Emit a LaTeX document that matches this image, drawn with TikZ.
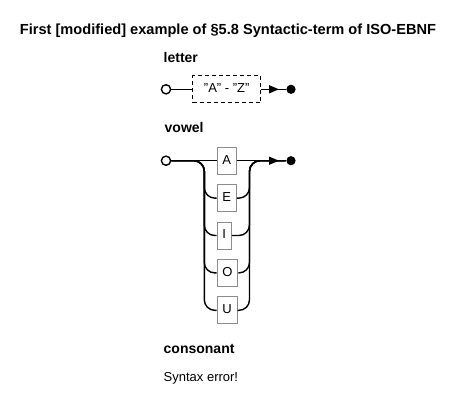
\documentclass[tikz,border=0pt]{standalone}
\usepackage{fontspec}
\setmainfont{Liberation Sans}
\usepackage{tikz}
\usetikzlibrary{calc,positioning,arrows.meta}

\tikzset{
  heading/.style={anchor=base west,inner sep=0pt,font=\fontsize{14}{16}\selectfont\bfseries},
  plaintext/.style={anchor=base west,inner sep=0pt,font=\fontsize{13}{15}\selectfont},
  startdot/.style={circle,draw,fill=white,minimum size=8pt,inner sep=0pt},
  enddot/.style={circle,fill=black,minimum size=7pt,inner sep=0pt},
  termbox/.style={rectangle,draw=black!45,line width=0.9pt,minimum height=27pt,
               inner xsep=5.3pt,font=\fontsize{13}{15}\selectfont},
  rangebox/.style={termbox,draw=black,dash pattern=on 4pt off 3pt,minimum width=68pt},
  arrowtip/.style={-{Triangle[length=10pt,width=8pt]}}
}

\begin{document}
\begin{tikzpicture}[x=1pt,y=-1pt,line width=1.4pt,
                    text height=1.5ex,text depth=0.25ex]
  \useasboundingbox (0,0) rectangle (455,410);

  \node[heading,anchor=base,font=\fontsize{14.6}{17}\selectfont\bfseries] (title) at (228,34)
    {First [modified] example of §5.8 Syntactic-term of ISO-EBNF};

  % letter
  \node[heading] (letter) at (163,62) {letter};
  \node[startdot] (lbegin) at (166,89.3) {};
  \node[rangebox] (az) at (226.7,89.3) {"A" - "Z"};
  \node[enddot] (lfinish) at (291,89.3) {};
  \coordinate (ltip) at (279,89.3);
  \draw (lbegin) -- (az);
  \draw (az) -- (lfinish);
  \draw[arrowtip] (az) -- (ltip);

  % vowel
  \node[heading] (vowel) at (164,132) {vowel};
  \node[startdot] (vbegin) at (166,160.7) {};
  \foreach \ch [count=\i from 0] in {A,E,I,O,U}
    \node[termbox,anchor=west] (v\ch) at (216.7,160.7+37.4*\i) {\ch};
  \node[enddot] (vfinish) at (291,160.7) {};
  \coordinate (lrail) at (204.3,160.7);
  \coordinate (rrail) at (249.5,160.7);
  \coordinate (vtip) at (279,160.7);
  \draw (vbegin) -- (vA);
  \draw (vA) -- (vfinish);
  \draw[arrowtip] (vA) -- (vtip);
  \foreach \ch in {E,I,O,U} {
    \draw[rounded corners=10.5pt] (vbegin) -| (lrail |- v\ch.west) -- (v\ch);
    \draw[rounded corners=10.5pt] (v\ch) -| (rrail) -- (vfinish);
  }

  % consonant
  \node[heading] (consonant) at (163,353) {consonant};
  \node[plaintext] (error) at (163,381) {Syntax error!};
\end{tikzpicture}
\end{document}
